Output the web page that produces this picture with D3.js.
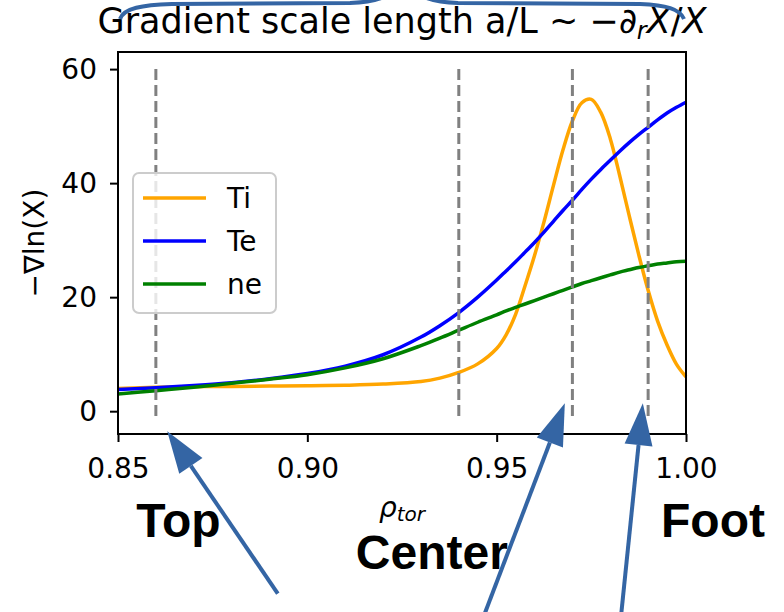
<!DOCTYPE html>
<html lang="en">
<head>
    <meta charset="UTF-8">
    <title>Gradient scale length</title>
    <script src="https://cdn.jsdelivr.net/npm/d3@7"></script>
    <style>
        body{
            margin: 0;
            background: #fff;
        }
        svg{
            display: block;
            font-family: "DejaVu Sans", sans-serif;
        }
        .curve{
            fill: none;
            stroke-width: 3.5px;
        }
        .vline{
            stroke: #808080;
            stroke-width: 3px;
            stroke-dasharray: 11 5;
        }
        .annot{
            font-family: "Liberation Sans", Arial, sans-serif;
            font-weight: bold;
            font-size: 48px;
        }
        .arrow{
            stroke: #3465a4;
            stroke-width: 4px;
            fill: none;
        }
        .arrowhead{
            fill: #3465a4;
        }
    </style>
</head>

<body>
    <script>
        // data
        const rho = [0.85, 0.86, 0.87, 0.88, 0.89, 0.90, 0.91, 0.92, 0.93, 0.935, 0.94, 0.945, 0.95,
                     0.9525, 0.955, 0.9575, 0.96, 0.9625, 0.965, 0.9675, 0.97, 0.9725, 0.975, 0.9775,
                     0.98, 0.9825, 0.985, 0.9875, 0.99, 0.9925, 0.995, 0.9975, 1.00];
        const Ti = [4.0, 4.2, 4.3, 4.35, 4.4, 4.45, 4.55, 4.75, 5.2, 5.8, 6.8, 8.3, 11.0,
                    13.4, 17.0, 22.0, 27.3, 33.2, 39.6, 45.8, 50.9, 54.1, 54.7, 52.4,
                    47.8, 41.3, 34.3, 27.5, 21.2, 15.8, 11.6, 8.2, 6.0];
        const Te = [3.8, 4.1, 4.5, 5.0, 5.7, 6.6, 7.9, 9.9, 13.0, 15.0, 17.3, 20.0, 23.0,
                    24.6, 26.2, 27.9, 29.6, 31.4, 33.3, 35.2, 37.0, 38.9, 40.7, 42.4,
                    44.0, 45.6, 47.1, 48.5, 49.8, 51.1, 52.3, 53.3, 54.2];
        const ne = [3.0, 3.6, 4.2, 4.9, 5.6, 6.4, 7.6, 9.2, 11.5, 12.8, 14.2, 15.6, 16.9,
                    17.6, 18.2, 18.8, 19.4, 20.0, 20.6, 21.2, 21.8, 22.4, 22.9, 23.4,
                    23.9, 24.4, 24.8, 25.2, 25.5, 25.8, 26.0, 26.2, 26.3];
        const seriesNames = ["Ti", "Te", "ne"];
        const seriesColors = ["orange", "blue", "green"];
        const markerRho = [0.86, 0.94, 0.97, 0.99];
        const xTicks = [0.85, 0.90, 0.95, 1.00];
        const yTicks = [0, 20, 40, 60];
        const labels = [{text: "Top", rho: 0.8548}, {text: "Center", rho: 0.9128}, {text: "Foot", rho: 0.9934}];
        // arrows: tail -> tip in data coords
        const arrows = [
            {from: [0.8922, -32.0], to: [0.8630, -3.5]},
            {from: [0.9457, -37.5], to: [0.9680, 1.4]},
            {from: [0.9826, -37.5], to: [0.9886, 1.4]}
        ];

        const width = 784, height = 612;
        const margins = {top: 52, bottom: 178, left: 118, right: 98};

        const svg = d3.select("body").append("svg")
            .attr("width", width)
            .attr("height", height);

        const xScale = d3.scaleLinear()
            .domain([0.85, 1.00])
            .range([margins.left, width - margins.right]);
        const yScale = d3.scaleLinear()
            .domain([-4, 63])
            .range([height - margins.bottom, margins.top]);

        const series = [Ti, Te, ne].map((vals, i) => ({
            name: seriesNames[i],
            color: seriesColors[i],
            points: rho.map((r, j) => ({rho: r, v: vals[j]}))
        }));

        const line = d3.line()
            .x(d => xScale(d.rho))
            .y(d => yScale(d.v))
            .curve(d3.curveCatmullRom.alpha(0.5));

        const plot = svg.append("g");
        plot.selectAll("path.curve")
            .data(series)
            .enter()
            .append("path")
            .attr("class", "curve")
            .attr("stroke", d => d.color)
            .attr("d", d => line(d.points));

        // dashed region markers
        plot.selectAll("line.vline")
            .data(markerRho)
            .enter()
            .append("line")
            .attr("class", "vline")
            .attr("x1", d => xScale(d)).attr("x2", d => xScale(d))
            .attr("y1", yScale(60)).attr("y2", yScale(-1));

        // axes
        const xAxis = d3.axisBottom(xScale).tickValues(xTicks).tickFormat(d3.format(".2f"))
            .tickSize(8).tickPadding(16);
        const yAxis = d3.axisLeft(yScale).tickValues(yTicks).tickSize(8).tickPadding(13);

        const gx = svg.append("g")
            .attr("transform", `translate(0, ${height - margins.bottom})`)
            .call(xAxis);
        const gy = svg.append("g")
            .attr("transform", `translate(${margins.left}, 0)`)
            .call(yAxis);
        [gx, gy].forEach(g => {
            g.select(".domain").remove();
            g.selectAll("line").attr("stroke", "#000").attr("stroke-width", 2);
            g.selectAll("text").attr("fill", "#000")
                .style("font-size", "28px")
                .style("font-family", "DejaVu Sans");
        });

        svg.append("rect")
            .attr("x", margins.left).attr("y", margins.top)
            .attr("width", width - margins.left - margins.right)
            .attr("height", height - margins.top - margins.bottom)
            .attr("fill", "none")
            .attr("stroke", "#000")
            .attr("stroke-width", 2);

        // legend
        const legend = svg.append("g").attr("transform", "translate(133,173)");
        legend.append("rect")
            .attr("width", 143).attr("height", 140)
            .attr("rx", 6)
            .attr("fill", "#fff").attr("fill-opacity", 0.8)
            .attr("stroke", "#cccccc").attr("stroke-width", 2);
        const items = legend.selectAll("g.item")
            .data(series)
            .enter()
            .append("g")
            .attr("transform", (d, i) => `translate(0, ${25 + i * 43})`);
        items.append("line")
            .attr("x1", 10).attr("x2", 73)
            .attr("stroke", d => d.color)
            .attr("stroke-width", 3.5);
        items.append("text")
            .attr("x", 94)
            .attr("dy", "0.36em")
            .style("font-size", "28px")
            .text(d => d.name);

        // title
        const title = svg.append("text")
            .attr("x", (margins.left + width - margins.right) / 2)
            .attr("y", 33)
            .attr("text-anchor", "middle")
            .style("font-size", "35px");
        title.append("tspan").text("Gradient scale length a/L ~ \u2212\u2202");
        title.append("tspan").style("font-style", "italic").style("font-size", "24px")
            .attr("dy", 6).text("r");
        title.append("tspan").style("font-style", "italic").attr("dy", -6).text("X");
        title.append("tspan").text("/");
        title.append("tspan").style("font-style", "italic").text("X");

        // axis labels
        svg.append("text")
            .attr("transform", `translate(44, ${yScale(29.5)}) rotate(-90)`)
            .attr("text-anchor", "middle")
            .style("font-size", "28px")
            .text("\u2212\u2207ln(X)");

        const xl = svg.append("text")
            .attr("x", (margins.left + width - margins.right) / 2)
            .attr("y", 517)
            .attr("text-anchor", "middle")
            .style("font-style", "italic");
        xl.append("tspan").style("font-size", "28px").text("\u03c1");
        xl.append("tspan").style("font-size", "20px").attr("dy", 4).text("tor");

        // region labels
        svg.selectAll("text.annot")
            .data(labels)
            .enter()
            .append("text")
            .attr("class", "annot")
            .attr("x", d => xScale(d.rho))
            .attr("y", d => d.text === "Center" ? 569 : 537)
            .text(d => d.text);

        // arrows
        const headLen = 42, headW = 28;
        arrows.forEach(a => {
            const tx = xScale(a.to[0]), ty = yScale(a.to[1]);
            const fx = xScale(a.from[0]), fy = yScale(a.from[1]);
            const len = Math.hypot(fx - tx, fy - ty);
            const ux = (fx - tx) / len, uy = (fy - ty) / len;
            const bx = tx + ux * headLen, by = ty + uy * headLen;
            const px = -uy * headW / 2, py = ux * headW / 2;
            svg.append("line").attr("class", "arrow")
                .attr("x1", fx).attr("y1", fy).attr("x2", bx).attr("y2", by);
            svg.append("path").attr("class", "arrowhead")
                .attr("d", `M${tx},${ty}L${bx + px},${by + py}L${bx - px},${by - py}Z`);
        });

        // brace over the title
        svg.append("path")
            .attr("class", "arrow")
            .attr("stroke-width", 6)
            .attr("d", "M120,19 C124,8 142,5 172,4 L350,3 C378,2 392,-4 404,-18 C416,-4 430,2 458,3 L640,4 C666,5 680,9 684,19");
    </script>
</body>
</html>
